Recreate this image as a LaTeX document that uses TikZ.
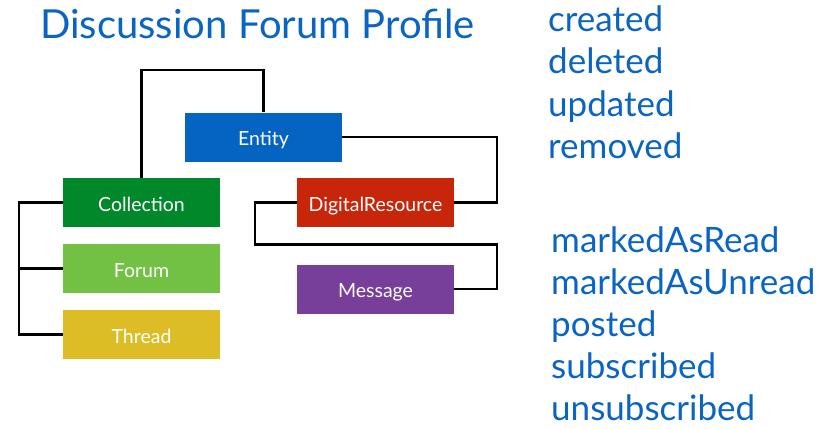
\documentclass[tikz,border=0pt]{standalone}
\usepackage{fontspec}
\setmainfont{Lato}
\usetikzlibrary{calc}

\definecolor{titleblue}{HTML}{0A64C4}
\definecolor{entityblue}{HTML}{0563C1}
\definecolor{collgreen}{HTML}{00882B}
\definecolor{forumgreen}{HTML}{72C044}
\definecolor{threadyellow}{HTML}{DCBD25}
\definecolor{resred}{HTML}{C8260A}
\definecolor{msgpurple}{HTML}{773F9A}

\begin{document}
\begin{tikzpicture}[x=1pt,y=-1pt,
  box/.style={minimum width=157pt,minimum height=49pt,inner sep=0pt,text=white,
    text height=18pt,text depth=1pt,font=\fontsize{19.5}{22}\selectfont},
  link/.style={line width=2.2pt,line join=miter},
  evt/.style={anchor=base west,inner sep=0pt,text=titleblue,
    font=\fontsize{35}{40}\selectfont}]
\useasboundingbox (0,0) rectangle (818,428);

\node[anchor=base west,inner sep=0pt,text=titleblue,font=\fontsize{40}{44}\selectfont]
  (title) at (40,38) {Discussion Forum Profile};

% class boxes
\node[box,fill=entityblue] (entity) at (263.5,137) {Entity};
\node[box,fill=collgreen] (collection) at (141.5,202.5) {Collection};
\node[box,fill=forumgreen] (forum) at (141.5,268.5) {Forum};
\node[box,fill=threadyellow] (thread) at (141.5,334.5) {Thread};
\node[box,fill=resred] (digres) at (375.5,202.5) {DigitalResource};
\node[box,fill=msgpurple] (message) at (375.5,289) {Message};

% tree lines
\draw[link] (entity.north) -- ++(0,-42) -| (collection.north);
\draw[link] (entity.east) -- ++(155,0) |- (digres.east);
\draw[link] (collection.west) -- ++(-44,0) |- (thread.west);
\draw[link] (forum.west) -- ++(-45,0);
\draw[link] (digres.west) -- ++(-42,0) -- ++(0,42) -| ($(message.east)+(43,0)$) -- (message.east);

% events
\node[evt] (created) at (548,32) {created};
\node[evt] (deleted) at (548,74) {deleted};
\node[evt] (updated) at (548,116) {updated};
\node[evt] (removed) at (548,158) {removed};

\node[evt] (markread) at (551,252) {markedAsRead};
\node[evt] (markunread) at (551,294) {markedAsUnread};
\node[evt] (posted) at (551,336) {posted};
\node[evt] (subscribed) at (551,378) {subscribed};
\node[evt] (unsubscribed) at (551,420) {unsubscribed};

\end{tikzpicture}
\end{document}
